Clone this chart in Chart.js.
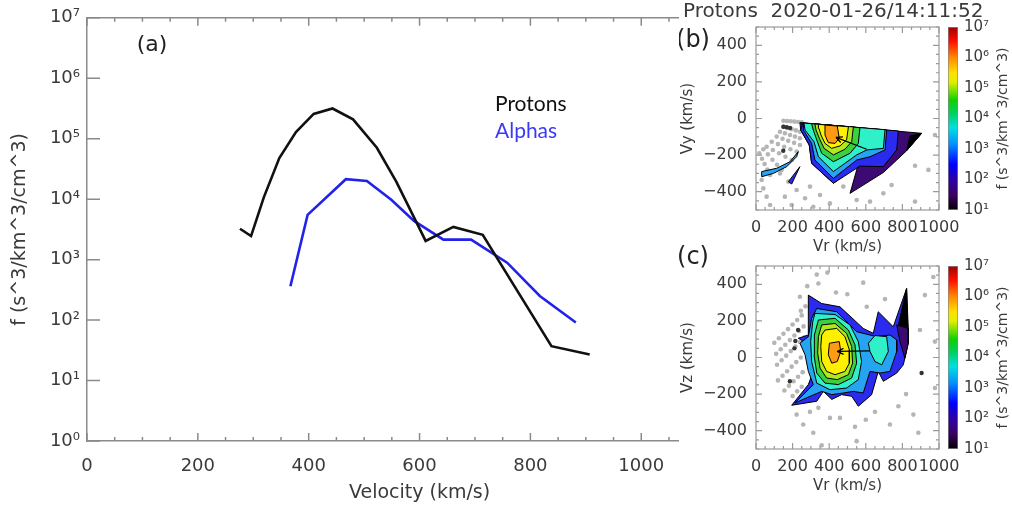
<!DOCTYPE html>
<html><head><meta charset="utf-8">
<script src="https://cdn.jsdelivr.net/npm/chart.js@4/dist/chart.umd.min.js"></script>
<style>
html,body{margin:0;padding:0;background:#fff;width:1012px;height:512px;overflow:hidden;position:relative}
canvas{position:absolute}
#ov{position:absolute;left:679px;top:0;width:333px;height:512px;background:#fff}
</style></head><body>
<canvas id="ca" style="left:0;top:0" width="790" height="512"></canvas>
<div id="ov"></div>
<canvas id="cb" style="left:679px;top:0" width="333" height="256"></canvas>
<canvas id="cc" style="left:679px;top:239px" width="333" height="256"></canvas>
<canvas id="cbb" style="left:940px;top:0" width="72" height="256"></canvas>
<canvas id="cbc" style="left:940px;top:239px" width="72" height="256"></canvas>
<script>
// ---------- Panel (a) data ----------
const protonV = [276,296,319,347,377,409,443,480,523,558,590,611,661,714,838,907];
const protonF = [3240,2450,10700,47900,129000,257000,316000,209000,70800,19500,5010,2040,3470,2570,37,27];
const alphaV  = [367,398,467,505,549,590,643,693,758,817,882];
const alphaF  = [363,5500,21400,20000,9770,4370,2140,2140,890,251,91];
const xTickVals = [0,200,400,600,800,1000,1200];
const yTickVals = [1,10,100,1e3,1e4,1e5,1e6,1e7];
const yTickLabels = ['10⁰','10¹','10²','10³','10⁴','10⁵','10⁶','10⁷'];
const seriesNames = ['Protons','Alphas'];

// ---------- Panels (b),(c) shared ----------
const vTickVals = [0,200,400,600,800,1000];
const vyTickVals = [-400,-200,0,200,400];
const cbTickVals = [10,100,1e3,1e4,1e5,1e6,1e7];
const cbTickLabels = ['10¹','10²','10³','10⁴','10⁵','10⁶','10⁷'];
const levelColors = {orange:'#ff9a14',yellow:'#fff000',ygreen:'#b0e820',green:'#3ccf40',aqua:'#2ff0c8',lblue:'#26a4f2',blue:'#2b2bf0',purple:'#3c0a72',black:'#000000'};

// Panel (b): Vr-Vy contour polygons [vr, vy]
const bOrange = [[377,-36],[444,-41],[455,-108],[432,-136],[395,-132],[377,-90]];
const bYellow = [[341,-32],[505,-45],[495,-117],[459,-150],[413,-163],[377,-136],[355,-90],[344,-54]];
const bYGreen = [[322,-30],[532,-46],[523,-127],[486,-168],[423,-199],[372,-163],[346,-108],[328,-63]];
const bGreen  = [[304,-28],[568,-50],[559,-136],[514,-190],[423,-236],[359,-190],[332,-117],[313,-63]];
const bAqua   = [[262,-25],[705,-61],[696,-163],[605,-172],[550,-199],[423,-290],[341,-209],[317,-127],[268,-63]];
const bLBlue  = [[259,-25],[714,-63],[705,-172],[623,-209],[550,-227],[423,-327],[322,-227],[304,-136],[259,-63]];
const bBlue   = [[255,-25],[778,-68],[769,-172],[696,-263],[568,-260],[423,-354],[304,-245],[291,-145],[244,-63]];
const bBlack  = [[905,-81],[841,-96],[823,-176]];
const bOuter  = [[240,-22],[905,-81],[823,-176],[769,-227],[696,-295],[514,-409],[559,-250],[423,-354],[304,-245],[291,-145],[244,-63]];
const bBand   = [[31,-290],[113,-272],[186,-236],[231,-181],[222,-209],[168,-263],[95,-300],[31,-318]];
const bTri    = [[177,-345],[240,-263],[195,-358]];
const bArrow  = [[605,-168],[437,-103]];
const bDots = [[150,-12],[170,-14],[190,-15],[210,-17],[230,-19],[250,-21],
 [149,-45],[172,-52],[195,-58],[218,-65],[240,-72],
 [131,-72],[158,-81],[186,-90],[213,-99],[240,-108],
 [113,-99],[145,-111],[176,-122],[208,-133],[240,-145],
 [86,-127],[120,-140],[154,-154],[188,-168],[222,-181],
 [58,-154],[92,-172],[126,-190],[161,-209],[195,-227],
 [40,-168],[65,-196],[90,-225],[115,-253],[140,-281],
 [18,-190],[33,-220],[47,-249],[62,-279],[77,-309],
 [31,-336],[40,-382],[58,-427],[77,-473],
 [131,-300],[177,-345],[222,-391],[268,-436],[313,-482],
 [158,-427],[195,-473],[295,-372],[350,-418],[404,-464],
 [477,-372],[550,-445],[623,-454],[696,-409],[741,-363],[869,-258],[942,-281],[869,-454],[978,-90]];
const bDarkDots = [[150,-45],[168,-48],[186,-52],[149,-176]];

// Panel (c): Vr-Vz contour polygons [vr, vz]
const cOrange = [[401,78],[455,87],[463,33],[444,-22],[414,-31],[395,15]];
const cYellow = [[377,150],[441,159],[486,114],[510,42],[510,-31],[486,-76],[432,-94],[386,-76],[359,-22],[354,60],[359,123]];
const cYGreen = [[359,178],[432,186],[495,132],[523,60],[528,-31],[505,-94],[444,-121],[386,-112],[350,-58],[337,24],[341,114]];
const cGreen  = [[341,205],[432,214],[505,150],[541,69],[550,-31],[523,-112],[450,-148],[377,-140],[332,-85],[317,15],[319,123]];
const cAqua   = [[322,241],[432,235],[514,178],[559,87],[577,-22],[559,-121],[495,-167],[404,-176],[332,-140],[304,-22],[299,87],[310,196]];
const cAquaR  = [[614,78],[650,120],[714,114],[723,33],[687,-40],[650,-22],[623,33]];
const cLBlue  = [[332,268],[441,250],[550,141],[659,114],[732,123],[769,96],[769,33],[732,-76],[678,-85],[623,-76],[586,-194],[532,-185],[477,-194],[414,-203],[359,-185],[213,-248],[313,-148],[286,-76],[268,15],[240,78],[286,114],[304,214]];
const cBlack  = [[823,377],[778,178],[832,159]];
const cPurple = [[769,178],[832,159],[832,78],[814,-4],[787,86]];
const cOuter  = [[286,341],[359,295],[459,277],[586,159],[641,132],[668,250],[750,168],[823,377],[832,78],[805,-40],[769,-85],[696,-130],[668,-76],[632,-203],[559,-266],[523,-212],[468,-203],[414,-229],[368,-185],[332,-239],[195,-261],[286,-148],[313,-76],[277,33],[259,51],[250,96],[231,105],[286,123]];
const cArrow  = [[623,36],[444,33]];
const cDots = [[332,453],[390,464],[341,404],[280,390],[240,332],[437,355],[499,346],[586,409],[705,319],[605,277],[923,341],[969,440],[896,150],[978,87],[978,-167],[860,-312],[887,-411],[778,-266],[650,-297],[732,-366],[541,-379],[550,-457],[459,-330],[404,-330],[341,-275],[295,-297],[258,-366],[313,-411],[222,-312],[359,-480],[600,-340],[820,-200],
 [250,230],[225,205],[200,180],[175,155],[150,130],[125,105],[100,80],
 [260,170],[235,145],[210,120],[185,95],[160,70],[135,45],[110,20],
 [265,110],[240,85],[215,60],[190,35],[165,10],[140,-15],[115,-40],
 [245,0],[220,-25],[195,-50],[170,-75],[145,-100],[120,-125],
 [255,-80],[230,-105],[205,-130],[180,-155],[155,-180],
 [250,-160],[225,-185],[200,-210],[270,280],[245,255]];
const cDarkDots = [[230,150],[210,50],[185,-130],[905,-85],[215,90]];

// ---------- helpers ----------
const FONT = '"DejaVu Sans", sans-serif';
const pts = arr => arr.map(a => ({x:a[0], y:a[1]}));
const closed = arr => pts(arr.concat([arr[0]]));
function poly(arr, color, border){
  return {data: closed(arr), showLine:true, fill:'shape', backgroundColor:color, borderColor: border||'#000', borderWidth:1, pointRadius:0, tension:0};
}

// ---------- Panel (a) ----------
const aPlugin = {
  id:'aDeco',
  afterDraw(chart){
    const {ctx, chartArea:a, scales:{x, y}} = chart;
    ctx.save();
    ctx.strokeStyle = '#8a8a8a'; ctx.lineWidth = 1.5;
    ctx.beginPath();
    for (let v = 0; v <= 1200; v += 50){
      const px = x.getPixelForValue(v); const L = v % 200 === 0 ? 8 : 4;
      ctx.moveTo(px, a.bottom); ctx.lineTo(px, a.bottom - L);
      ctx.moveTo(px, a.top); ctx.lineTo(px, a.top + L);
    }
    yTickVals.forEach(v => { const py = y.getPixelForValue(v); ctx.moveTo(a.left, py); ctx.lineTo(a.left + 13, py); });
    ctx.stroke();
    ctx.fillStyle = '#222'; ctx.font = '22px ' + FONT; ctx.textAlign = 'center'; ctx.textBaseline = 'middle';
    ctx.fillText('(a)', 152, 45);
    ctx.textAlign = 'left'; ctx.font = '21px Lato, "Open Sans", sans-serif';
    ctx.fillStyle = '#111'; ctx.fillText(seriesNames[0], 495, 104);
    ctx.fillStyle = '#3a3af5'; ctx.fillText(seriesNames[1], 495, 131);
    ctx.restore();
  }
};
new Chart(document.getElementById('ca'), {
  type:'line',
  data:{datasets:[
    {label:seriesNames[0], data: protonV.map((v,i)=>({x:v, y:protonF[i]})), borderColor:'#111', borderWidth:2.6, pointRadius:0, tension:0, fill:false},
    {label:seriesNames[1], data: alphaV.map((v,i)=>({x:v, y:alphaF[i]})), borderColor:'#2222ea', borderWidth:2.6, pointRadius:0, tension:0, fill:false}
  ]},
  options:{
    responsive:false, animation:false,
    layout:{padding:{left:0, top:10, right:29, bottom:0}},
    plugins:{legend:{display:false}, tooltip:{enabled:false}},
    scales:{
      x:{type:'linear', position:'bottom', min:0, max:1200,
        afterBuildTicks: s => { s.ticks = xTickVals.map(v => ({value:v})); },
        ticks:{font:{family:FONT, size:18}, color:'#3a3a3a', padding:15, maxRotation:0, autoSkip:false, callback: v => String(v)},
        grid:{display:false, drawTicks:false}, border:{display:true, color:'#8a8a8a', width:1.5},
        title:{display:true, text:'Velocity (km/s)', font:{family:FONT, size:19}, color:'#3a3a3a', padding:{top:0, bottom:8}},
        afterFit: s => { s.height = 71; }},
      x2:{type:'linear', position:'top', min:0, max:1200,
        ticks:{display:false}, grid:{display:false, drawTicks:false}, border:{display:true, color:'#8a8a8a', width:1.5},
        afterFit: s => { s.height = 0; }},
      y:{type:'logarithmic', position:'left', min:1, max:1e7,
        afterBuildTicks: s => { s.ticks = yTickVals.map(v => ({value:v})); },
        ticks:{font:{family:FONT, size:18}, color:'#3a3a3a', padding:7, autoSkip:false, callback: (v) => yTickLabels[yTickVals.indexOf(v)] },
        grid:{display:false, drawTicks:false}, border:{display:true, color:'#8a8a8a', width:1.5},
        title:{display:true, text:'f (s^3/km^3/cm^3)', font:{family:FONT, size:19}, color:'#3a3a3a', padding:{top:9, bottom:0}},
        afterFit: s => { s.width = 87; }}
    }
  },
  plugins:[aPlugin]
});

// ---------- Panels (b),(c) ----------
function panelPlugin(tag, title){
  return {
    id:'deco'+tag,
    afterDatasetsDraw(chart){
      const {ctx, chartArea:a, scales:{x, y}} = chart;
      ctx.save();
      const m = chart.getDatasetMeta(0).data;
      const p0 = m[0], p1 = m[1];
      const ang = Math.atan2(p1.y - p0.y, p1.x - p0.x);
      ctx.strokeStyle = '#000'; ctx.lineWidth = 1.3; ctx.beginPath();
      [0.45, -0.45].forEach(d => { ctx.moveTo(p1.x, p1.y); ctx.lineTo(p1.x - 7*Math.cos(ang + d), p1.y - 7*Math.sin(ang + d)); });
      ctx.stroke();
      ctx.strokeStyle = '#9a9a9a'; ctx.lineWidth = 1.2;
      ctx.strokeRect(a.left, a.top, a.width, a.height);
      ctx.beginPath();
      for (let v = 0; v <= 1000; v += 50){
        const px = x.getPixelForValue(v); const L = v % 200 === 0 ? 6 : 3;
        ctx.moveTo(px, a.bottom); ctx.lineTo(px, a.bottom - L);
        ctx.moveTo(px, a.top); ctx.lineTo(px, a.top + L);
      }
      for (let v = -500; v <= 500; v += 50){
        const py = y.getPixelForValue(v); const L = v % 200 === 0 ? 6 : 3;
        ctx.moveTo(a.left, py); ctx.lineTo(a.left + L, py);
        ctx.moveTo(a.right, py); ctx.lineTo(a.right - L, py);
      }
      ctx.stroke();
      ctx.fillStyle = '#222'; ctx.textBaseline = 'middle'; ctx.textAlign = 'center';
      ctx.font = '24px ' + FONT;
      ctx.fillText(tag, 14, tag === '(b)' ? 41 : 19);
      if (title){ ctx.font = '20px ' + FONT; ctx.fillStyle = '#3a3a3a'; ctx.textAlign = 'left'; ctx.fillText(title, 4, 12); }
      ctx.restore();
    }
  };
}
function makePanel(id, tag, ylabel, title, sets){
  new Chart(document.getElementById(id), {
    type:'scatter',
    data:{datasets: sets},
    options:{
      responsive:false, animation:false,
      layout:{padding:{left:0, top:27, right:73, bottom:0}},
      plugins:{legend:{display:false}, tooltip:{enabled:false}},
      scales:{
        x:{type:'linear', min:0, max:1000,
          afterBuildTicks: s => { s.ticks = vTickVals.map(v => ({value:v})); },
          ticks:{font:{family:FONT, size:16}, color:'#3a3a3a', padding:8, maxRotation:0, autoSkip:false, callback: v => String(v)},
          grid:{display:false, drawTicks:false}, border:{display:false},
          title:{display:true, text:'Vr (km/s)', font:{family:FONT, size:15}, color:'#3a3a3a', padding:{top:0, bottom:0}},
          afterFit: s => { s.height = 46; }},
        y:{type:'linear', min:-500, max:500,
          afterBuildTicks: s => { s.ticks = vyTickVals.map(v => ({value:v})); },
          ticks:{font:{family:FONT, size:16}, color:'#3a3a3a', padding:9, autoSkip:false, callback: v => String(v).replace('-', '−')},
          grid:{display:false, drawTicks:false}, border:{display:false},
          title:{display:true, text:ylabel, font:{family:FONT, size:15}, color:'#3a3a3a', padding:{top:0, bottom:0}},
          afterFit: s => { s.width = 77; }}
      }
    },
    plugins:[panelPlugin(tag, title)]
  });
}
function arrowSet(arr){ return {data: pts(arr), showLine:true, borderColor:'#000', borderWidth:1.3, pointRadius:0, fill:false, tension:0}; }
function dotSet(arr, color, r){ return {data: pts(arr), showLine:false, pointRadius:r, pointBackgroundColor:color, pointBorderWidth:0, borderColor:color}; }

makePanel('cb', '(b)', 'Vy (km/s)', 'Protons  2020-01-26/14:11:52', [
  arrowSet(bArrow),
  poly(bOrange, levelColors.orange), poly(bYellow, levelColors.yellow), poly(bYGreen, levelColors.ygreen),
  poly(bGreen, levelColors.green), poly(bAqua, levelColors.aqua), poly(bLBlue, levelColors.lblue),
  poly(bBlue, levelColors.blue), poly(bBlack, levelColors.black), poly(bOuter, levelColors.purple),
  poly(bBand, levelColors.lblue), poly(bTri, levelColors.blue),
  dotSet(bDarkDots, '#333', 2.2), dotSet(bDots, '#b5b5b5', 2.3)
]);
makePanel('cc', '(c)', 'Vz (km/s)', null, [
  arrowSet(cArrow),
  poly(cOrange, levelColors.orange), poly(cYellow, levelColors.yellow), poly(cYGreen, levelColors.ygreen),
  poly(cGreen, levelColors.green), poly(cAqua, levelColors.aqua), poly(cAquaR, levelColors.aqua),
  poly(cLBlue, levelColors.lblue), poly(cBlack, levelColors.black), poly(cPurple, levelColors.purple),
  poly(cOuter, levelColors.blue),
  dotSet(cDarkDots, '#333', 2.2), dotSet(cDots, '#b5b5b5', 2.3)
]);

// ---------- Colorbars ----------
function makeColorbar(id){
  const cbPlugin = {
    id:'cbt'+id,
    afterDraw(chart){
      const {ctx, chartArea:a} = chart;
      ctx.save();
      ctx.translate(63, (a.top + a.bottom)/2); ctx.rotate(-Math.PI/2);
      ctx.font = '14px ' + FONT; ctx.fillStyle = '#3a3a3a'; ctx.textAlign = 'center'; ctx.textBaseline = 'middle';
      ctx.fillText('f (s^3/km^3/cm^3)', 0, 0);
      ctx.restore();
    }
  };
  new Chart(document.getElementById(id), {
    type:'bar',
    data:{labels:[''], datasets:[{data:[[10, 1e7]], barPercentage:1, categoryPercentage:1, borderSkipped:false, borderWidth:1, borderColor:'#888',
      backgroundColor: (c) => {
        const a = c.chart.chartArea; if (!a) return '#000';
        const g = c.chart.ctx.createLinearGradient(0, a.bottom, 0, a.top);
        [[0,'#000000'],[0.08,'#3a0060'],[0.16,'#3000a0'],[0.25,'#0000ff'],[0.36,'#0090ff'],[0.45,'#00e0e0'],[0.53,'#00d060'],[0.6,'#10d000'],[0.7,'#e0f000'],[0.75,'#ffe000'],[0.84,'#ff8000'],[0.92,'#ff1000'],[1,'#a00000']].forEach(s => g.addColorStop(s[0], s[1]));
        return g;
      }}]},
    options:{
      responsive:false, animation:false,
      layout:{padding:{left:8, top:27, right:0, bottom:46}},
      plugins:{legend:{display:false}, tooltip:{enabled:false}},
      scales:{
        x:{display:false},
        y:{type:'logarithmic', position:'right', min:10, max:1e7,
          afterBuildTicks: s => { s.ticks = cbTickVals.map(v => ({value:v})); },
          ticks:{font:{family:FONT, size:15}, color:'#3a3a3a', padding:6, autoSkip:false, callback: v => cbTickLabels[cbTickVals.indexOf(v)]},
          grid:{display:false, drawTicks:false}, border:{display:false},
          afterFit: s => { s.width = 54; }}
      }
    },
    plugins:[cbPlugin]
  });
}
makeColorbar('cbb');
makeColorbar('cbc');
</script>
</body></html>
